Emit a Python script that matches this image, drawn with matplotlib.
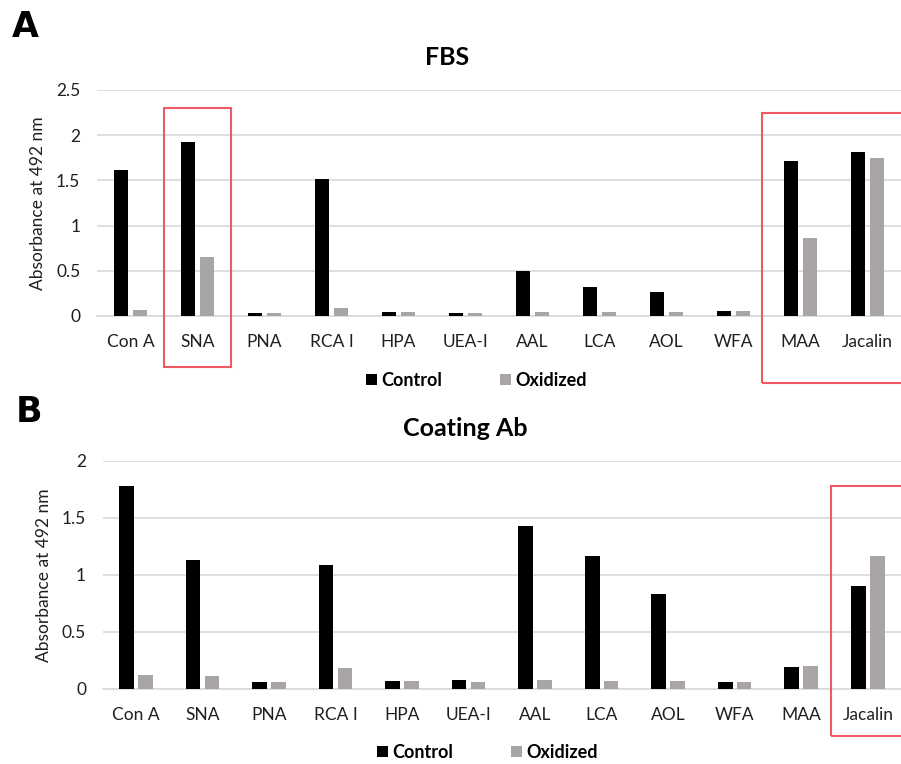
import matplotlib.pyplot as plt
import numpy as np
from matplotlib.patches import Rectangle
import matplotlib.transforms as mtransforms

plt.rcParams["font.family"] = ["Lato", "DejaVu Sans"]

LECTINS = ["Con A", "SNA", "PNA", "RCA I", "HPA", "UEA-I",
           "AAL", "LCA", "AOL", "WFA", "MAA", "Jacalin"]

FBS_CONTROL = [1.61, 1.93, 0.03, 1.51, 0.04, 0.03, 0.50, 0.32, 0.26, 0.06, 1.71, 1.81]
FBS_OXIDIZED = [0.07, 0.65, 0.03, 0.09, 0.04, 0.03, 0.04, 0.04, 0.04, 0.06, 0.86, 1.75]

AB_CONTROL = [1.78, 1.13, 0.06, 1.09, 0.07, 0.08, 1.43, 1.17, 0.83, 0.06, 0.19, 0.90]
AB_OXIDIZED = [0.12, 0.11, 0.06, 0.18, 0.07, 0.06, 0.08, 0.07, 0.07, 0.06, 0.20, 1.17]

CONTROL_COLOR = "#000000"
OXIDIZED_COLOR = "#a9a5a5"
BOX_COLOR = "#ee5a64"
TEXT_COLOR = "#1f1f1f"


def draw_panel(ax, control, oxidized, title, title_x, ymax, ystep):
    x = np.arange(len(LECTINS))
    w = 0.22
    ax.bar(x - 0.142, control, w, color=CONTROL_COLOR, label="Control", zorder=3)
    ax.bar(x + 0.142, oxidized, w, color=OXIDIZED_COLOR, label="Oxidized", zorder=3)

    ax.set_xlim(-0.5, len(LECTINS) - 0.5)
    ax.set_ylim(0, ymax)
    ticks = np.arange(0, ymax + 0.01, ystep)
    ax.set_yticks(ticks)
    ax.set_yticklabels([f"{v:g}" for v in ticks])
    ax.set_xticks(x)
    ax.set_xticklabels(LECTINS)
    ax.tick_params(axis="both", length=0, labelsize=12.5, labelcolor=TEXT_COLOR)
    ax.tick_params(axis="x", pad=13)
    ax.tick_params(axis="y", pad=12)
    ax.grid(axis="y", color="#d9d9d9", linewidth=1.2, zorder=0)
    for side in ["top", "right", "left"]:
        ax.spines[side].set_visible(False)
    ax.spines["bottom"].set_color("#d9d9d9")
    ax.spines["bottom"].set_linewidth(1.2)
    ax.set_ylabel("Absorbance at 492 nm", fontsize=12.5, color=TEXT_COLOR)
    ax.set_title(title, x=title_x, fontsize=18, fontweight="bold", pad=18)


def red_box(ax, x0, x1, y0, y1):
    trans = mtransforms.blended_transform_factory(ax.transData, ax.transAxes)
    rect = Rectangle((x0, y0), x1 - x0, y1 - y0, transform=trans, fill=False,
                     edgecolor=BOX_COLOR, linewidth=1.5, clip_on=False, zorder=5)
    ax.add_patch(rect)


fig = plt.figure(figsize=(9.01, 7.64), dpi=100)

ax_a = fig.add_axes([0.1077, 0.5864, 0.8923, 0.2958])
draw_panel(ax_a, FBS_CONTROL, FBS_OXIDIZED, "FBS", 0.435, 2.5, 0.5)
ax_a.yaxis.set_label_coords(-0.064, 0.5)
red_box(ax_a, 0.5, 1.5, -0.226, 0.920)
red_box(ax_a, 9.43, 12.2, -0.296, 0.898)
ax_a.legend(loc="upper center", bbox_to_anchor=(0.472, -0.175), ncol=2, frameon=False,
            handlelength=0.6, handleheight=0.6, handletextpad=0.25, columnspacing=3.2,
            prop={"size": 13, "weight": "bold"})

ax_b = fig.add_axes([0.114, 0.0982, 0.886, 0.2984])
draw_panel(ax_b, AB_CONTROL, AB_OXIDIZED, "Coating Ab", 0.454, 2, 0.5)
ax_b.yaxis.set_label_coords(-0.064, 0.5)
red_box(ax_b, 10.45, 12.2, -0.205, 0.892)
ax_b.legend(loc="upper center", bbox_to_anchor=(0.482, -0.17), ncol=2, frameon=False,
            handlelength=0.6, handleheight=0.6, handletextpad=0.25, columnspacing=3.2,
            prop={"size": 13, "weight": "bold"})

fig.text(0.013, 0.952, "A", fontsize=25, fontweight="bold", family="DejaVu Sans")
fig.text(0.017, 0.447, "B", fontsize=25, fontweight="bold", family="DejaVu Sans")

fig.savefig("out.png", dpi=100)
